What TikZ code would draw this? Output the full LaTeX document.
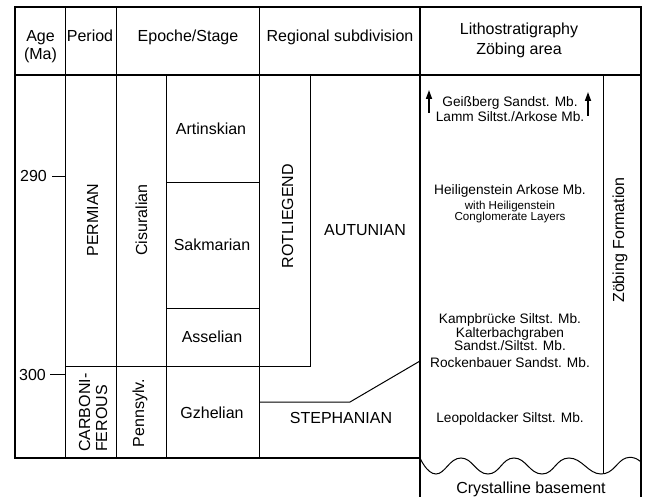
\documentclass[tikz,border=0pt]{standalone}
\usepackage{fontspec}
\setmainfont{Liberation Sans}
\usetikzlibrary{arrows.meta}
\tikzset{
    frameline/.style={line width=1.8pt},
    gridline/.style={line width=1pt},
    bigtext/.style={font=\fontsize{16}{18}\selectfont, inner sep=0pt, anchor=base},
    membertext/.style={font=\fontsize{13.7}{15}\selectfont, inner sep=0pt, anchor=base},
    smalltext/.style={font=\fontsize{11.6}{13}\selectfont, inner sep=0pt, anchor=base},
    uparrow/.style={-{Triangle[length=9pt,width=6pt]}, line width=1.6pt}
}

\begin{document}
\begin{tikzpicture}[x=1pt, y=-1pt]
    \useasboundingbox (0,0) rectangle (646,497);
    \draw[frameline] (420,458) -- (15,458) -- (15,7) -- (641,7) -- (641,497);
    \draw[frameline] (15,75) -- (641,75);
    \draw[frameline] (420,7) -- (420,497);
    \draw[gridline] (65,7) -- (65,458);
    \draw[gridline] (116,7) -- (116,458);
    \draw[gridline] (166,75) -- (166,458);
    \draw[gridline] (259,7) -- (259,458);
    \draw[gridline] (310,75) -- (310,367) -- (65,367);
    \draw[gridline] (166,183) -- (259,183);
    \draw[gridline] (166,309) -- (259,309);
    \draw[gridline] (259,402) -- (350,402) -- (420,361);
    \draw[gridline] (603,75) -- (603,474);
    \draw[gridline] (52,177) -- (65,177);
    \draw[gridline] (50,375) -- (65,375);
    \draw[gridline] plot[smooth, tension=0.8] coordinates {(420,458) (436,474) (461,458) (488,474)
        (514,458) (542,474) (569,458) (601,474) (626,458) (641,462)};

    \node[bigtext] (age) at (40.5,42) {Age};
    \node[bigtext] (ma) at (40.5,59.5) {(Ma)};
    \node[bigtext] (period) at (90,41.5) {Period};
    \node[bigtext] (epoch) at (188,42) {Epoche/Stage};
    \node[bigtext] (regional) at (340,42) {Regional subdivision};
    \node[bigtext] (litho) at (519,35) {Lithostratigraphy};
    \node[bigtext] (zarea) at (519,55) {Zöbing area};

    \node[bigtext, anchor=base east] (a290) at (47,182) {290};
    \node[bigtext, anchor=base east] (a300) at (46,381) {300};

    \node[bigtext, rotate=90] (permian) at (98,220) {PERMIAN};
    \node[bigtext, rotate=90, anchor=base west] (carboni) at (90,452) {CARBONI-};
    \node[bigtext, rotate=90, anchor=base west] (ferous) at (107,452) {FEROUS};
    \node[bigtext, rotate=90] (cisuralian) at (147,220) {Cisuralian};
    \node[bigtext, rotate=90] (pennsylv) at (144,413) {Pennsylv.};
    \node[bigtext] (artinskian) at (211,135) {Artinskian};
    \node[bigtext] (sakmarian) at (212,251) {Sakmarian};
    \node[bigtext] (asselian) at (212,343) {Asselian};
    \node[bigtext] (gzhelian) at (212,418) {Gzhelian};
    \node[bigtext, rotate=90] (rotliegend) at (293,216) {ROTLIEGEND};
    \node[bigtext] (autunian) at (365,236) {AUTUNIAN};
    \node[bigtext] (stephanian) at (341,424) {STEPHANIAN};

    \node[membertext] (geissberg) at (510,107) {Geißberg Sandst. Mb.};
    \node[membertext] (lamm) at (510,122) {Lamm Siltst./Arkose Mb.};
    \coordinate (leftfoot) at (429,113);
    \coordinate (lefttip) at (429,90);
    \coordinate (rightfoot) at (588,116);
    \coordinate (righttip) at (588,92);
    \draw[uparrow] (leftfoot) -- (lefttip);
    \draw[uparrow] (rightfoot) -- (righttip);
    \node[membertext] (heiligenstein) at (510,195) {Heiligenstein Arkose Mb.};
    \node[smalltext] (withheil) at (510,210) {with Heiligenstein};
    \node[smalltext] (conglomerate) at (510,221) {Conglomerate Layers};
    \node[membertext] (kampbruecke) at (510,324) {Kampbrücke Siltst. Mb.};
    \node[membertext] (kalterbach) at (510,337.5) {Kalterbachgraben};
    \node[membertext] (sandsilt) at (510,351) {Sandst./Siltst. Mb.};
    \node[membertext] (rockenbauer) at (510,367.5) {Rockenbauer Sandst. Mb.};
    \node[membertext] (leopoldacker) at (510,422) {Leopoldacker Siltst. Mb.};
    \node[bigtext] (basement) at (531,493) {Crystalline basement};
    \node[bigtext, rotate=90] (zoebing) at (624,240) {Zöbing Formation};
\end{tikzpicture}
\end{document}
